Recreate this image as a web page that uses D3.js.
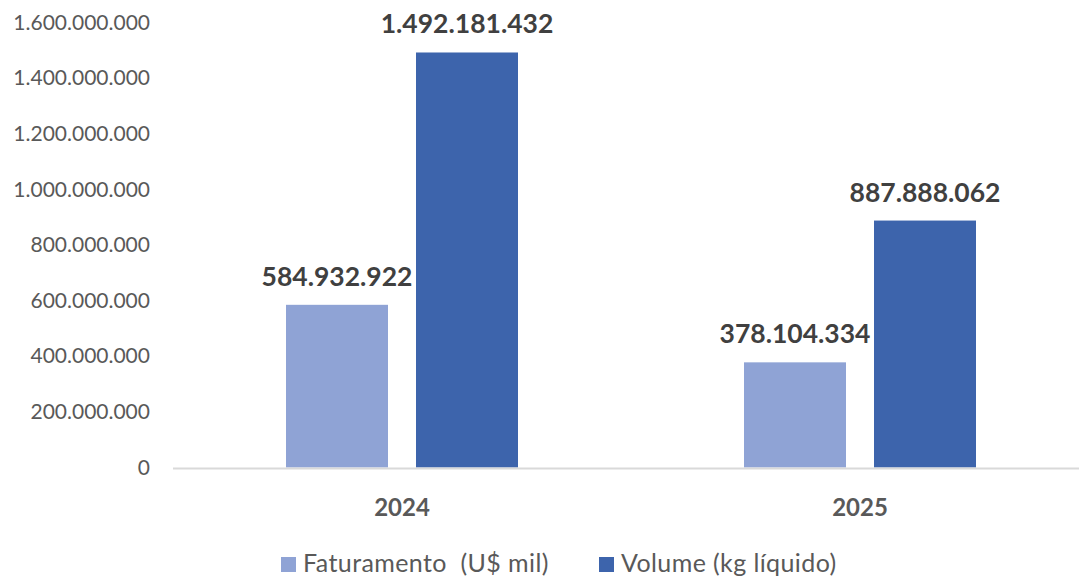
<!DOCTYPE html>
<html>
<head>
<meta charset="utf-8">
<script src="https://cdn.jsdelivr.net/npm/d3@7"></script>
<style>
  html, body { margin: 0; padding: 0; background: #fff; }
  svg { display: block; font-family: Lato, "Open Sans", sans-serif; }
</style>
</head>
<body>
<svg id="chart" width="1079" height="578"></svg>
<script>
// Categories, series and axis ticks
const years = ["2024", "2025"];
const seriesNames = ["Faturamento  (U$ mil)", "Volume (kg líquido)"];
const faturamento = [584932922, 378104334];
const volume = [1492181432, 887888062];
const yTicks = [0, 200000000, 400000000, 600000000, 800000000, 1000000000, 1200000000, 1400000000, 1600000000];
const colors = ["#8FA3D5", "#3D64AC"];

const svg = d3.select("#chart");
const W = 1079, H = 578;
const plot = { left: 173, right: 1089, top: 22.5, bottom: 467.5 };

// Pt-BR style thousands separator
const fmt = n => d3.format(",")(n).replace(/,/g, ".");

const x0 = d3.scaleBand().domain(years).range([plot.left, plot.right]).paddingInner(0).paddingOuter(0);
const x1 = d3.scaleBand().domain(seriesNames).range([113, 458 - 113]).paddingInner(28 / 130).paddingOuter(0);
const y = d3.scaleLinear().domain([0, 1600000000]).range([plot.bottom, plot.top]);

// Y axis labels
const yAxis = d3.axisLeft(y).tickValues(yTicks).tickFormat(fmt).tickSize(0).tickPadding(0);
const yg = svg.append("g").attr("transform", `translate(150,0)`).call(yAxis);
yg.select(".domain").remove();
yg.selectAll("text")
  .attr("fill", "#595959")
  .style("font-size", "21px")
  .style("font-family", "Lato, sans-serif");

// Data rows
const rows = years.map((yr, i) => ({
  year: yr,
  values: [
    { key: seriesNames[0], value: faturamento[i], color: colors[0] },
    { key: seriesNames[1], value: volume[i], color: colors[1] }
  ]
}));

const groups = svg.append("g").selectAll("g").data(rows).join("g")
  .attr("transform", d => `translate(${x0(d.year)},0)`);

groups.selectAll("rect").data(d => d.values).join("rect")
  .attr("x", d => x1(d.key))
  .attr("width", x1.bandwidth())
  .attr("y", d => y(d.value))
  .attr("height", d => y(0) - y(d.value))
  .attr("fill", d => d.color);

groups.selectAll("text.val").data(d => d.values).join("text")
  .attr("class", "val")
  .attr("x", d => x1(d.key) + x1.bandwidth() / 2)
  .attr("y", d => y(d.value) - 19)
  .attr("text-anchor", "middle")
  .attr("fill", "#404040")
  .style("font-size", "26.5px")
  .style("font-weight", "bold")
  .text(d => fmt(d.value));

// Baseline (x axis)
const xAxis = d3.axisBottom(x0).tickSize(0).tickPadding(0);
const xg = svg.append("g").attr("transform", `translate(0,${plot.bottom + 1})`).call(xAxis);
xg.select(".domain").remove();
svg.append("line")
  .attr("x1", plot.left).attr("x2", W)
  .attr("y1", plot.bottom + 1).attr("y2", plot.bottom + 1)
  .attr("stroke", "#D9D9D9").attr("stroke-width", 2);
xg.selectAll("text")
  .attr("dy", null)
  .attr("y", 47)
  .attr("fill", "#595959")
  .style("font-size", "24px")
  .style("font-weight", "bold")
  .style("font-family", "Lato, sans-serif");

// Legend
const legendItems = [
  { name: seriesNames[0], color: colors[0], x: 281 },
  { name: seriesNames[1], color: colors[1], x: 599 }
];
const lg = svg.append("g").selectAll("g").data(legendItems).join("g")
  .attr("transform", d => `translate(${d.x},557)`);
lg.append("rect").attr("width", 15).attr("height", 15).attr("fill", d => d.color);
lg.append("text")
  .attr("x", 22).attr("y", 15)
  .attr("fill", "#595959")
  .style("font-size", "25px")
  .style("letter-spacing", "0.4px")
  .style("white-space", "pre")
  .attr("xml:space", "preserve")
  .text(d => d.name);
</script>
</body>
</html>
